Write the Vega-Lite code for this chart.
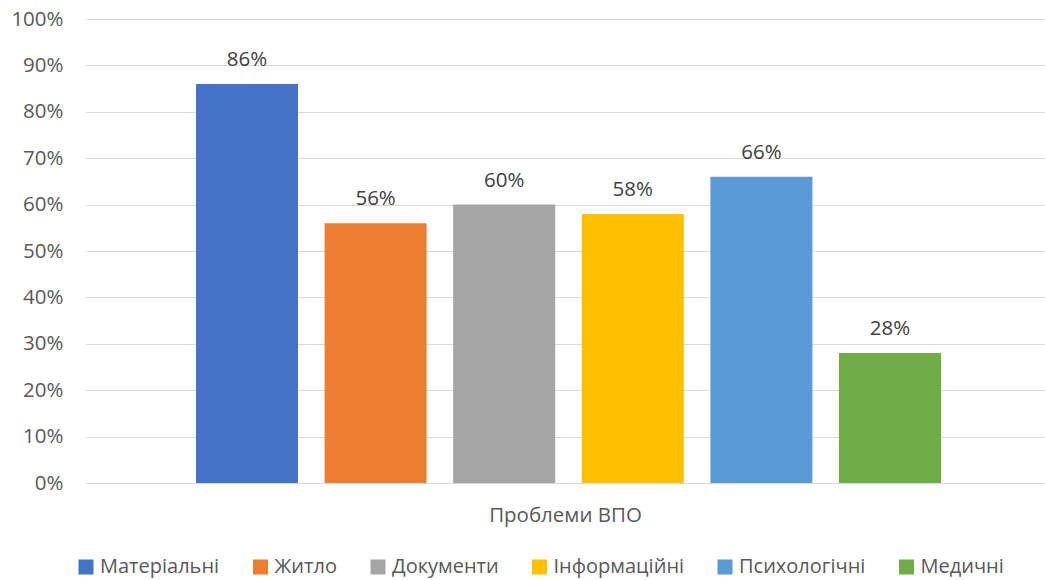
{
  "$schema": "https://vega.github.io/schema/vega-lite/v6.json",
  "width": 959,
  "height": 464,
  "autosize": {"type": "none"},
  "padding": {"left": 86, "top": 19, "right": 0, "bottom": 97},
  "background": "white",
  "config": {"view": {"stroke": null}, "font": "Open Sans"},
  "data": {
    "values": [
      {"category": "Проблеми ВПО", "series": "Матеріальні", "value": 0.86},
      {"category": "Проблеми ВПО", "series": "Житло", "value": 0.56},
      {"category": "Проблеми ВПО", "series": "Документи", "value": 0.60},
      {"category": "Проблеми ВПО", "series": "Інформаційні", "value": 0.58},
      {"category": "Проблеми ВПО", "series": "Психологічні", "value": 0.66},
      {"category": "Проблеми ВПО", "series": "Медичні", "value": 0.28}
    ]
  },
  "encoding": {
    "x": {
      "field": "category",
      "type": "nominal",
      "scale": {"paddingInner": 0, "paddingOuter": 0},
      "axis": {
        "title": null,
        "labelAngle": 0,
        "ticks": false,
        "grid": false,
        "domainColor": "#d9d9d9",
        "domainWidth": 1,
        "labelColor": "#595959",
        "labelFontSize": 20.5,
        "labelFont": "Open Sans",
        "labelPadding": 22
      }
    },
    "xOffset": {
      "field": "series",
      "type": "nominal",
      "sort": ["Матеріальні", "Житло", "Документи", "Інформаційні", "Психологічні", "Медичні"],
      "scale": {"paddingInner": 0.2068, "paddingOuter": 0.832, "align": 0.514}
    },
    "y": {
      "field": "value",
      "type": "quantitative",
      "scale": {"domain": [0, 1]},
      "axis": {
        "values": [0, 0.1, 0.2, 0.3, 0.4, 0.5, 0.6, 0.7, 0.8, 0.9, 1],
        "format": ".0%",
        "title": null,
        "ticks": false,
        "domain": false,
        "gridColor": "#d9d9d9",
        "gridWidth": 1,
        "labelColor": "#595959",
        "labelFontSize": 20.5,
        "labelFont": "Open Sans",
        "labelPadding": 23
      }
    }
  },
  "layer": [
    {
      "mark": {"type": "bar"},
      "encoding": {
        "color": {
          "field": "series",
          "type": "nominal",
          "sort": ["Матеріальні", "Житло", "Документи", "Інформаційні", "Психологічні", "Медичні"],
          "scale": {
            "domain": ["Матеріальні", "Житло", "Документи", "Інформаційні", "Психологічні", "Медичні"],
            "range": ["#4472C4", "#ED7D31", "#A5A5A5", "#FFC000", "#5B9BD5", "#70AD47"]
          },
          "legend": {
            "title": null,
            "orient": "none",
            "direction": "horizontal",
            "columns": 6,
            "legendX": -10,
            "legendY": 538,
            "symbolType": "square",
            "symbolSize": 225,
            "symbolStrokeWidth": 0,
            "labelFontSize": 20,
            "labelFont": "Open Sans",
            "labelColor": "#595959",
            "labelOffset": 4,
            "columnPadding": 30.5
          }
        }
      }
    },
    {
      "mark": {"type": "text", "baseline": "middle", "dy": -24, "fontSize": 20.5, "color": "#404040", "font": "Open Sans"},
      "encoding": {
        "text": {"field": "value", "type": "quantitative", "format": ".0%"}
      }
    }
  ]
}
